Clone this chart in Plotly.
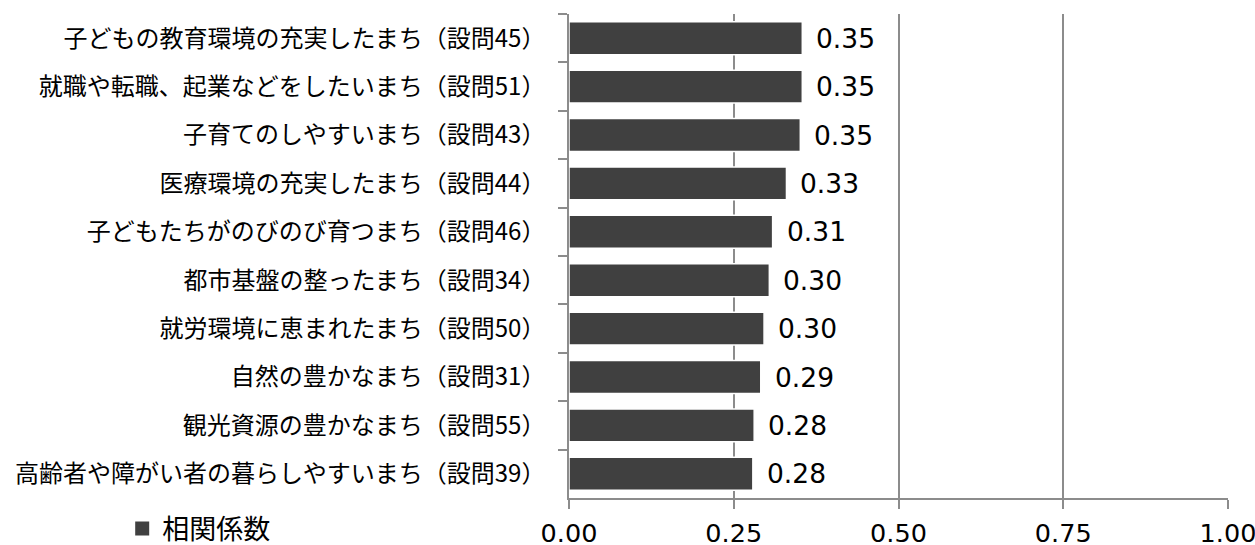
import plotly.graph_objects as go

categories = [
    "子どもの教育環境の充実したまち（設問45）",
    "就職や転職、起業などをしたいまち（設問51）",
    "子育てのしやすいまち（設問43）",
    "医療環境の充実したまち（設問44）",
    "子どもたちがのびのび育つまち（設問46）",
    "都市基盤の整ったまち（設問34）",
    "就労環境に恵まれたまち（設問50）",
    "自然の豊かなまち（設問31）",
    "観光資源の豊かなまち（設問55）",
    "高齢者や障がい者の暮らしやすいまち（設問39）",
]
values = [0.354, 0.354, 0.351, 0.330, 0.309, 0.304, 0.296, 0.291, 0.281, 0.279]
series_name = "相関係数"
x_ticks = [0.0, 0.25, 0.5, 0.75, 1.0]
x_tick_labels = ["0.00", "0.25", "0.50", "0.75", "1.00"]

JP = "Noto Sans CJK JP"
NUM = "DejaVu Sans"
AXIS_GRAY = "#8c8c8c"
BAR_COLOR = "#404040"

fig = go.Figure()
fig.add_trace(go.Bar(
    x=values,
    y=categories,
    orientation="h",
    name=series_name,
    marker=dict(color=BAR_COLOR, line=dict(color="white", width=1.5)),
    showlegend=False,
    hoverinfo="skip",
))
# legend entry (square swatch)
fig.add_trace(go.Scatter(
    x=[None], y=[None], mode="markers", name=series_name,
    marker=dict(symbol="square", size=14, color=BAR_COLOR),
    showlegend=True,
))

for v, c in zip(values, categories):
    fig.add_annotation(
        x=v, y=c, xref="x", yref="y",
        text=f"{v:.2f}", showarrow=False,
        xanchor="left", xshift=12, yshift=0,
        font=dict(family=NUM, size=26.5, color="#000000"),
    )

fig.update_layout(
    width=1255, height=545,
    margin=dict(l=569, r=27, t=14, b=47, autoexpand=False),
    paper_bgcolor="white", plot_bgcolor="white",
    bargap=0.32,
    font=dict(family=JP, color="#000000"),
    legend=dict(
        orientation="h",
        x=-0.678, xanchor="left",
        y=-0.064, yanchor="middle",
        font=dict(family=JP, size=27, color="#000000"),
        itemwidth=30,
        bgcolor="rgba(0,0,0,0)",
    ),
    xaxis=dict(
        range=[0, 1.0],
        tickvals=x_ticks,
        ticktext=x_tick_labels,
        showgrid=True, gridcolor=AXIS_GRAY, gridwidth=1.5,
        zeroline=False,
        showline=True, linecolor=AXIS_GRAY, linewidth=1.5,
        ticks="outside", ticklen=9, tickcolor=AXIS_GRAY, tickwidth=1.5,
        tickfont=dict(family=NUM, size=25.5, color="#000000"),
        ticklabelstandoff=3,
        ticklabeloverflow="allow",
    ),
    yaxis=dict(
        autorange="reversed",
        showgrid=False,
        showline=True, linecolor=AXIS_GRAY, linewidth=1.5,
        ticks="outside", ticklen=9, tickcolor=AXIS_GRAY, tickwidth=1.5,
        tickson="boundaries",
        tickfont=dict(family=JP, size=24, color="#000000"),
        ticklabelstandoff=17,
    ),
)

fig.write_html(
    "out.html",
    config={"displayModeBar": False},
    post_script="document.body.style.margin='0';document.body.style.overflow='hidden';",
)
